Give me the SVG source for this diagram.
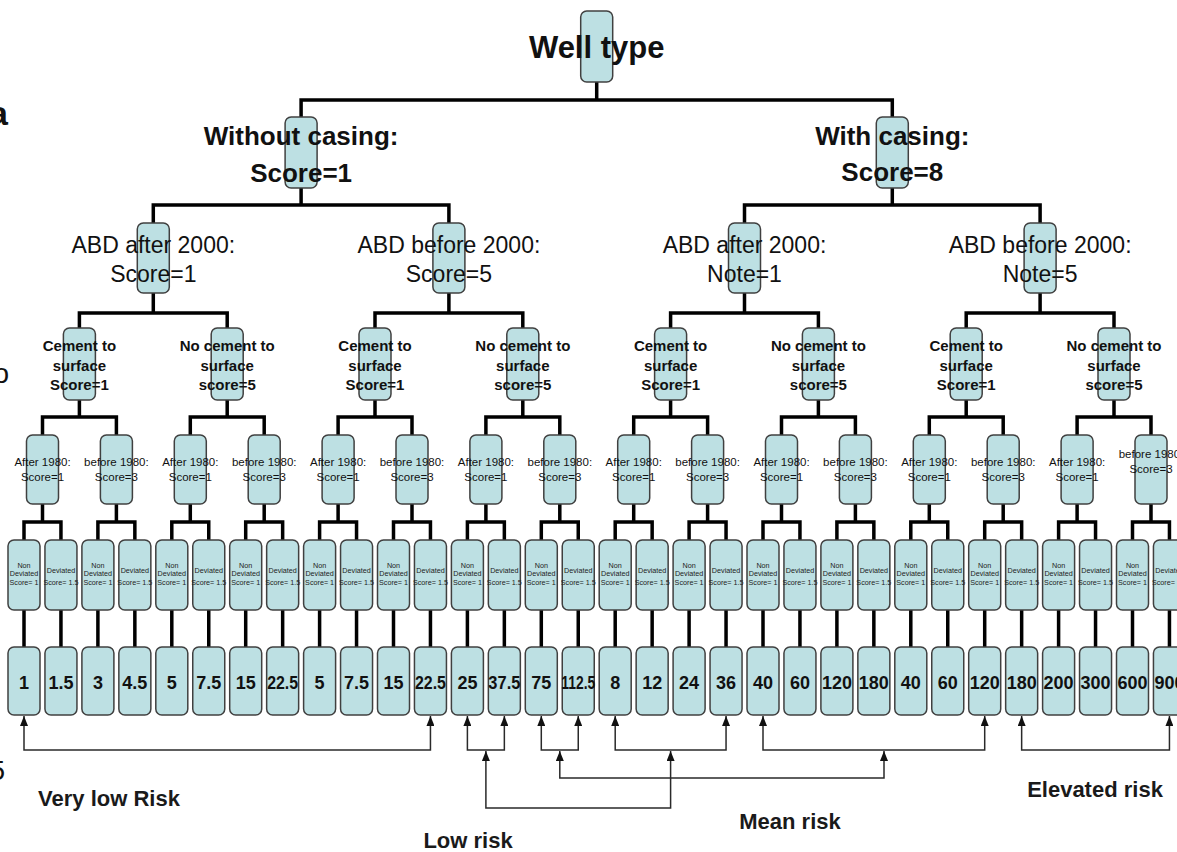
<svg xmlns="http://www.w3.org/2000/svg" width="1177" height="852" viewBox="0 0 1177 852">
<style>
text{font-family:"Liberation Sans",Arial,sans-serif;fill:#111;text-anchor:middle}
.b{fill:#bde0e3;stroke:#404040;stroke-width:1.5}
.t0{font-size:31px;font-weight:bold}
.t1{font-size:26px;font-weight:bold}
.t2{font-size:23px}
.t3{font-size:15px;font-weight:bold}
.t4{font-size:11.5px}
.t5{font-size:7.2px;fill:#222}
.t6{font-size:18px;font-weight:bold}
.tr{font-size:22px;font-weight:bold;fill:#1a1a1a}
.edge-ch{font-size:28px;text-anchor:end}
.edge{fill:none;stroke:#000;stroke-width:3.5}
.risk{fill:none;stroke:#2a2a2a;stroke-width:1.5;marker-start:url(#arr);marker-end:url(#arr)}
</style>
<defs>
<marker id="arr" viewBox="0 0 10 8" markerWidth="10" markerHeight="8" refX="10" refY="4" orient="auto-start-reverse" markerUnits="userSpaceOnUse">
<path d="M0,0L10,4L0,8z" fill="#111"/>
</marker>
</defs>
<rect width="1177" height="852" fill="#fff"/>
<text class="edge-ch" x="8" y="125" style="font-size:34px;font-weight:bold">a</text>
<text class="edge-ch" x="9" y="383">o</text>
<text class="edge-ch" x="5" y="780">5</text>

<g id="connectors">
<path class="edge" d="M596.7,82V100M301.1,117V100H892.3V117"/>
<path class="edge" d="M301.1,188V205M153.3,223V205H448.9V223M892.3,188V205M744.5,223V205H1040.1V223"/>
<path class="edge" d="M153.3,293V313M79.4,328V313H227.2V328M448.9,293V313M375,328V313H522.8V328M744.5,293V313M670.6,328V313H818.4V328M1040.1,293V313M966.2,328V313H1114V328"/>
<path class="edge" d="M79.4,400V417M42.5,435V417H116.4V435M227.2,400V417M190.3,435V417H264.2V435M375,400V417M338.1,435V417H412V435M522.8,400V417M485.9,435V417H559.8V435M670.6,400V417M633.7,435V417H707.6V435M818.4,400V417M781.5,435V417H855.4V435M966.2,400V417M929.3,435V417H1003.2V435M1114,400V417M1077.1,435V417H1151V435"/>
<path class="edge" d="M42.5,504V522M24,540V522H60.95V540M116.4,504V522M97.9,540V522H134.85V540M190.3,504V522M171.8,540V522H208.75V540M264.2,504V522M245.7,540V522H282.65V540M338.1,504V522M319.6,540V522H356.55V540M412,504V522M393.5,540V522H430.45V540M485.9,504V522M467.4,540V522H504.35V540M559.8,504V522M541.3,540V522H578.25V540M633.7,504V522M615.2,540V522H652.15V540M707.6,504V522M689.1,540V522H726.05V540M781.5,504V522M763,540V522H799.95V540M855.4,504V522M836.9,540V522H873.85V540M929.3,504V522M910.8,540V522H947.75V540M1003.2,504V522M984.7,540V522H1021.65V540M1077.1,504V522M1058.6,540V522H1095.55V540M1151,504V522M1132.5,540V522H1169.45V540"/>
<path class="edge" d="M24,610V647M60.95,610V647M97.9,610V647M134.85,610V647M171.8,610V647M208.75,610V647M245.7,610V647M282.65,610V647M319.6,610V647M356.55,610V647M393.5,610V647M430.45,610V647M467.4,610V647M504.35,610V647M541.3,610V647M578.25,610V647M615.2,610V647M652.15,610V647M689.1,610V647M726.05,610V647M763,610V647M799.95,610V647M836.9,610V647M873.85,610V647M910.8,610V647M947.75,610V647M984.7,610V647M1021.65,610V647M1058.6,610V647M1095.55,610V647M1132.5,610V647M1169.45,610V647"/>
<path class="risk" d="M24,716V750H430.45V716"/>
<path class="risk" d="M467.4,716V750H504.35V716"/>
<path class="risk" d="M541.3,716V750H578.25V716"/>
<path class="risk" d="M615.2,716V750H726.05V716"/>
<path class="risk" d="M763,716V750H984.7V716"/>
<path class="risk" d="M1021.65,716V750H1169.45V716"/>
<path class="risk" d="M485.9,751V808H670.6V751"/>
<path class="risk" d="M559.8,751V778H884V751"/>
</g>

<g id="well-type" transform="translate(596.7,0)"><rect class="b" x="-16" y="11" width="32" height="71" rx="6"/><text class="t0" y="58">Well type</text></g>

<g id="without-casing" transform="translate(301.1,0)"><rect class="b" x="-16" y="117" width="32" height="71" rx="6"/><text class="t1" y="145">Without casing:</text><text class="t1" y="182">Score=1</text></g>
<g id="with-casing" transform="translate(892.3,0)"><rect class="b" x="-16" y="117" width="32" height="71" rx="6"/><text class="t1" y="145">With casing:</text><text class="t1" y="181">Score=8</text></g>

<g id="abd-0" transform="translate(153.3,0)"><rect class="b" x="-16" y="223" width="32" height="70" rx="6"/><text class="t2" y="253">ABD after 2000:</text><text class="t2" y="282">Score=1</text></g>
<g id="abd-1" transform="translate(448.9,0)"><rect class="b" x="-16" y="223" width="32" height="70" rx="6"/><text class="t2" y="253">ABD before 2000:</text><text class="t2" y="282">Score=5</text></g>
<g id="abd-2" transform="translate(744.5,0)"><rect class="b" x="-16" y="223" width="32" height="70" rx="6"/><text class="t2" y="253">ABD after 2000:</text><text class="t2" y="282">Note=1</text></g>
<g id="abd-3" transform="translate(1040.1,0)"><rect class="b" x="-16" y="223" width="32" height="70" rx="6"/><text class="t2" y="253">ABD before 2000:</text><text class="t2" y="282">Note=5</text></g>

<g id="cem-0" transform="translate(79.4,0)"><rect class="b" x="-16" y="328" width="32" height="72" rx="6"/><text class="t3" y="351">Cement to</text><text class="t3" y="371">surface</text><text class="t3" y="390">Score=1</text></g>
<g id="cem-1" transform="translate(227.2,0)"><rect class="b" x="-16" y="328" width="32" height="72" rx="6"/><text class="t3" y="351">No cement to</text><text class="t3" y="371">surface</text><text class="t3" y="390">score=5</text></g>
<g id="cem-2" transform="translate(375,0)"><rect class="b" x="-16" y="328" width="32" height="72" rx="6"/><text class="t3" y="351">Cement to</text><text class="t3" y="371">surface</text><text class="t3" y="390">Score=1</text></g>
<g id="cem-3" transform="translate(522.8,0)"><rect class="b" x="-16" y="328" width="32" height="72" rx="6"/><text class="t3" y="351">No cement to</text><text class="t3" y="371">surface</text><text class="t3" y="390">score=5</text></g>
<g id="cem-4" transform="translate(670.6,0)"><rect class="b" x="-16" y="328" width="32" height="72" rx="6"/><text class="t3" y="351">Cement to</text><text class="t3" y="371">surface</text><text class="t3" y="390">Score=1</text></g>
<g id="cem-5" transform="translate(818.4,0)"><rect class="b" x="-16" y="328" width="32" height="72" rx="6"/><text class="t3" y="351">No cement to</text><text class="t3" y="371">surface</text><text class="t3" y="390">score=5</text></g>
<g id="cem-6" transform="translate(966.2,0)"><rect class="b" x="-16" y="328" width="32" height="72" rx="6"/><text class="t3" y="351">Cement to</text><text class="t3" y="371">surface</text><text class="t3" y="390">Score=1</text></g>
<g id="cem-7" transform="translate(1114,0)"><rect class="b" x="-16" y="328" width="32" height="72" rx="6"/><text class="t3" y="351">No cement to</text><text class="t3" y="371">surface</text><text class="t3" y="390">score=5</text></g>

<g id="y1980-0" transform="translate(42.5,0)"><rect class="b" x="-16" y="435" width="32" height="69" rx="6"/><text class="t4" y="466">After 1980:</text><text class="t4" y="481">Score=1</text></g>
<g id="y1980-1" transform="translate(116.4,0)"><rect class="b" x="-16" y="435" width="32" height="69" rx="6"/><text class="t4" y="466">before 1980:</text><text class="t4" y="481">Score=3</text></g>
<g id="y1980-2" transform="translate(190.3,0)"><rect class="b" x="-16" y="435" width="32" height="69" rx="6"/><text class="t4" y="466">After 1980:</text><text class="t4" y="481">Score=1</text></g>
<g id="y1980-3" transform="translate(264.2,0)"><rect class="b" x="-16" y="435" width="32" height="69" rx="6"/><text class="t4" y="466">before 1980:</text><text class="t4" y="481">Score=3</text></g>
<g id="y1980-4" transform="translate(338.1,0)"><rect class="b" x="-16" y="435" width="32" height="69" rx="6"/><text class="t4" y="466">After 1980:</text><text class="t4" y="481">Score=1</text></g>
<g id="y1980-5" transform="translate(412,0)"><rect class="b" x="-16" y="435" width="32" height="69" rx="6"/><text class="t4" y="466">before 1980:</text><text class="t4" y="481">Score=3</text></g>
<g id="y1980-6" transform="translate(485.9,0)"><rect class="b" x="-16" y="435" width="32" height="69" rx="6"/><text class="t4" y="466">After 1980:</text><text class="t4" y="481">Score=1</text></g>
<g id="y1980-7" transform="translate(559.8,0)"><rect class="b" x="-16" y="435" width="32" height="69" rx="6"/><text class="t4" y="466">before 1980:</text><text class="t4" y="481">Score=3</text></g>
<g id="y1980-8" transform="translate(633.7,0)"><rect class="b" x="-16" y="435" width="32" height="69" rx="6"/><text class="t4" y="466">After 1980:</text><text class="t4" y="481">Score=1</text></g>
<g id="y1980-9" transform="translate(707.6,0)"><rect class="b" x="-16" y="435" width="32" height="69" rx="6"/><text class="t4" y="466">before 1980:</text><text class="t4" y="481">Score=3</text></g>
<g id="y1980-10" transform="translate(781.5,0)"><rect class="b" x="-16" y="435" width="32" height="69" rx="6"/><text class="t4" y="466">After 1980:</text><text class="t4" y="481">Score=1</text></g>
<g id="y1980-11" transform="translate(855.4,0)"><rect class="b" x="-16" y="435" width="32" height="69" rx="6"/><text class="t4" y="466">before 1980:</text><text class="t4" y="481">Score=3</text></g>
<g id="y1980-12" transform="translate(929.3,0)"><rect class="b" x="-16" y="435" width="32" height="69" rx="6"/><text class="t4" y="466">After 1980:</text><text class="t4" y="481">Score=1</text></g>
<g id="y1980-13" transform="translate(1003.2,0)"><rect class="b" x="-16" y="435" width="32" height="69" rx="6"/><text class="t4" y="466">before 1980:</text><text class="t4" y="481">Score=3</text></g>
<g id="y1980-14" transform="translate(1077.1,0)"><rect class="b" x="-16" y="435" width="32" height="69" rx="6"/><text class="t4" y="466">After 1980:</text><text class="t4" y="481">Score=1</text></g>
<g id="y1980-15" transform="translate(1151,0)"><rect class="b" x="-16" y="435" width="32" height="69" rx="6"/><text class="t4" y="458">before 1980:</text><text class="t4" y="473">Score=3</text></g>

<g id="dev-0" transform="translate(24,0)"><rect class="b" x="-16" y="540" width="32" height="70" rx="6"/><text class="t5" y="567.5">Non</text><text class="t5" y="575.5">Deviated</text><text class="t5" y="584.5">Score= 1</text></g>
<g id="dev-1" transform="translate(60.95,0)"><rect class="b" x="-16" y="540" width="32" height="70" rx="6"/><text class="t5" y="572.5">Deviated</text><text class="t5" y="584.5">Score= 1.5</text></g>
<g id="dev-2" transform="translate(97.9,0)"><rect class="b" x="-16" y="540" width="32" height="70" rx="6"/><text class="t5" y="567.5">Non</text><text class="t5" y="575.5">Deviated</text><text class="t5" y="584.5">Score= 1</text></g>
<g id="dev-3" transform="translate(134.85,0)"><rect class="b" x="-16" y="540" width="32" height="70" rx="6"/><text class="t5" y="572.5">Deviated</text><text class="t5" y="584.5">Score= 1.5</text></g>
<g id="dev-4" transform="translate(171.8,0)"><rect class="b" x="-16" y="540" width="32" height="70" rx="6"/><text class="t5" y="567.5">Non</text><text class="t5" y="575.5">Deviated</text><text class="t5" y="584.5">Score= 1</text></g>
<g id="dev-5" transform="translate(208.75,0)"><rect class="b" x="-16" y="540" width="32" height="70" rx="6"/><text class="t5" y="572.5">Deviated</text><text class="t5" y="584.5">Score= 1.5</text></g>
<g id="dev-6" transform="translate(245.7,0)"><rect class="b" x="-16" y="540" width="32" height="70" rx="6"/><text class="t5" y="567.5">Non</text><text class="t5" y="575.5">Deviated</text><text class="t5" y="584.5">Score= 1</text></g>
<g id="dev-7" transform="translate(282.65,0)"><rect class="b" x="-16" y="540" width="32" height="70" rx="6"/><text class="t5" y="572.5">Deviated</text><text class="t5" y="584.5">Score= 1.5</text></g>
<g id="dev-8" transform="translate(319.6,0)"><rect class="b" x="-16" y="540" width="32" height="70" rx="6"/><text class="t5" y="567.5">Non</text><text class="t5" y="575.5">Deviated</text><text class="t5" y="584.5">Score= 1</text></g>
<g id="dev-9" transform="translate(356.55,0)"><rect class="b" x="-16" y="540" width="32" height="70" rx="6"/><text class="t5" y="572.5">Deviated</text><text class="t5" y="584.5">Score= 1.5</text></g>
<g id="dev-10" transform="translate(393.5,0)"><rect class="b" x="-16" y="540" width="32" height="70" rx="6"/><text class="t5" y="567.5">Non</text><text class="t5" y="575.5">Deviated</text><text class="t5" y="584.5">Score= 1</text></g>
<g id="dev-11" transform="translate(430.45,0)"><rect class="b" x="-16" y="540" width="32" height="70" rx="6"/><text class="t5" y="572.5">Deviated</text><text class="t5" y="584.5">Score= 1.5</text></g>
<g id="dev-12" transform="translate(467.4,0)"><rect class="b" x="-16" y="540" width="32" height="70" rx="6"/><text class="t5" y="567.5">Non</text><text class="t5" y="575.5">Deviated</text><text class="t5" y="584.5">Score= 1</text></g>
<g id="dev-13" transform="translate(504.35,0)"><rect class="b" x="-16" y="540" width="32" height="70" rx="6"/><text class="t5" y="572.5">Deviated</text><text class="t5" y="584.5">Score= 1.5</text></g>
<g id="dev-14" transform="translate(541.3,0)"><rect class="b" x="-16" y="540" width="32" height="70" rx="6"/><text class="t5" y="567.5">Non</text><text class="t5" y="575.5">Deviated</text><text class="t5" y="584.5">Score= 1</text></g>
<g id="dev-15" transform="translate(578.25,0)"><rect class="b" x="-16" y="540" width="32" height="70" rx="6"/><text class="t5" y="572.5">Deviated</text><text class="t5" y="584.5">Score= 1.5</text></g>
<g id="dev-16" transform="translate(615.2,0)"><rect class="b" x="-16" y="540" width="32" height="70" rx="6"/><text class="t5" y="567.5">Non</text><text class="t5" y="575.5">Deviated</text><text class="t5" y="584.5">Score= 1</text></g>
<g id="dev-17" transform="translate(652.15,0)"><rect class="b" x="-16" y="540" width="32" height="70" rx="6"/><text class="t5" y="572.5">Deviated</text><text class="t5" y="584.5">Score= 1.5</text></g>
<g id="dev-18" transform="translate(689.1,0)"><rect class="b" x="-16" y="540" width="32" height="70" rx="6"/><text class="t5" y="567.5">Non</text><text class="t5" y="575.5">Deviated</text><text class="t5" y="584.5">Score= 1</text></g>
<g id="dev-19" transform="translate(726.05,0)"><rect class="b" x="-16" y="540" width="32" height="70" rx="6"/><text class="t5" y="572.5">Deviated</text><text class="t5" y="584.5">Score= 1.5</text></g>
<g id="dev-20" transform="translate(763,0)"><rect class="b" x="-16" y="540" width="32" height="70" rx="6"/><text class="t5" y="567.5">Non</text><text class="t5" y="575.5">Deviated</text><text class="t5" y="584.5">Score= 1</text></g>
<g id="dev-21" transform="translate(799.95,0)"><rect class="b" x="-16" y="540" width="32" height="70" rx="6"/><text class="t5" y="572.5">Deviated</text><text class="t5" y="584.5">Score= 1.5</text></g>
<g id="dev-22" transform="translate(836.9,0)"><rect class="b" x="-16" y="540" width="32" height="70" rx="6"/><text class="t5" y="567.5">Non</text><text class="t5" y="575.5">Deviated</text><text class="t5" y="584.5">Score= 1</text></g>
<g id="dev-23" transform="translate(873.85,0)"><rect class="b" x="-16" y="540" width="32" height="70" rx="6"/><text class="t5" y="572.5">Deviated</text><text class="t5" y="584.5">Score= 1.5</text></g>
<g id="dev-24" transform="translate(910.8,0)"><rect class="b" x="-16" y="540" width="32" height="70" rx="6"/><text class="t5" y="567.5">Non</text><text class="t5" y="575.5">Deviated</text><text class="t5" y="584.5">Score= 1</text></g>
<g id="dev-25" transform="translate(947.75,0)"><rect class="b" x="-16" y="540" width="32" height="70" rx="6"/><text class="t5" y="572.5">Deviated</text><text class="t5" y="584.5">Score= 1.5</text></g>
<g id="dev-26" transform="translate(984.7,0)"><rect class="b" x="-16" y="540" width="32" height="70" rx="6"/><text class="t5" y="567.5">Non</text><text class="t5" y="575.5">Deviated</text><text class="t5" y="584.5">Score= 1</text></g>
<g id="dev-27" transform="translate(1021.65,0)"><rect class="b" x="-16" y="540" width="32" height="70" rx="6"/><text class="t5" y="572.5">Deviated</text><text class="t5" y="584.5">Score= 1.5</text></g>
<g id="dev-28" transform="translate(1058.6,0)"><rect class="b" x="-16" y="540" width="32" height="70" rx="6"/><text class="t5" y="567.5">Non</text><text class="t5" y="575.5">Deviated</text><text class="t5" y="584.5">Score= 1</text></g>
<g id="dev-29" transform="translate(1095.55,0)"><rect class="b" x="-16" y="540" width="32" height="70" rx="6"/><text class="t5" y="572.5">Deviated</text><text class="t5" y="584.5">Score= 1.5</text></g>
<g id="dev-30" transform="translate(1132.5,0)"><rect class="b" x="-16" y="540" width="32" height="70" rx="6"/><text class="t5" y="567.5">Non</text><text class="t5" y="575.5">Deviated</text><text class="t5" y="584.5">Score= 1</text></g>
<g id="dev-31" transform="translate(1169.45,0)"><rect class="b" x="-16" y="540" width="32" height="70" rx="6"/><text class="t5" y="572.5">Deviated</text><text class="t5" y="584.5">Score= 1.5</text></g>

<g id="leaf-0" transform="translate(24,0)"><rect class="b" x="-16" y="647" width="32" height="68" rx="6"/><text class="t6" y="689">1</text></g>
<g id="leaf-1" transform="translate(60.95,0)"><rect class="b" x="-16" y="647" width="32" height="68" rx="6"/><text class="t6" y="689">1.5</text></g>
<g id="leaf-2" transform="translate(97.9,0)"><rect class="b" x="-16" y="647" width="32" height="68" rx="6"/><text class="t6" y="689">3</text></g>
<g id="leaf-3" transform="translate(134.85,0)"><rect class="b" x="-16" y="647" width="32" height="68" rx="6"/><text class="t6" y="689">4.5</text></g>
<g id="leaf-4" transform="translate(171.8,0)"><rect class="b" x="-16" y="647" width="32" height="68" rx="6"/><text class="t6" y="689">5</text></g>
<g id="leaf-5" transform="translate(208.75,0)"><rect class="b" x="-16" y="647" width="32" height="68" rx="6"/><text class="t6" y="689">7.5</text></g>
<g id="leaf-6" transform="translate(245.7,0)"><rect class="b" x="-16" y="647" width="32" height="68" rx="6"/><text class="t6" y="689">15</text></g>
<g id="leaf-7" transform="translate(282.65,0)"><rect class="b" x="-16" y="647" width="32" height="68" rx="6"/><text class="t6" y="689" textLength="31" lengthAdjust="spacingAndGlyphs">22.5</text></g>
<g id="leaf-8" transform="translate(319.6,0)"><rect class="b" x="-16" y="647" width="32" height="68" rx="6"/><text class="t6" y="689">5</text></g>
<g id="leaf-9" transform="translate(356.55,0)"><rect class="b" x="-16" y="647" width="32" height="68" rx="6"/><text class="t6" y="689">7.5</text></g>
<g id="leaf-10" transform="translate(393.5,0)"><rect class="b" x="-16" y="647" width="32" height="68" rx="6"/><text class="t6" y="689">15</text></g>
<g id="leaf-11" transform="translate(430.45,0)"><rect class="b" x="-16" y="647" width="32" height="68" rx="6"/><text class="t6" y="689" textLength="31" lengthAdjust="spacingAndGlyphs">22.5</text></g>
<g id="leaf-12" transform="translate(467.4,0)"><rect class="b" x="-16" y="647" width="32" height="68" rx="6"/><text class="t6" y="689">25</text></g>
<g id="leaf-13" transform="translate(504.35,0)"><rect class="b" x="-16" y="647" width="32" height="68" rx="6"/><text class="t6" y="689" textLength="32" lengthAdjust="spacingAndGlyphs">37.5</text></g>
<g id="leaf-14" transform="translate(541.3,0)"><rect class="b" x="-16" y="647" width="32" height="68" rx="6"/><text class="t6" y="689">75</text></g>
<g id="leaf-15" transform="translate(578.25,0)"><rect class="b" x="-16" y="647" width="32" height="68" rx="6"/><text class="t6" y="689" textLength="34" lengthAdjust="spacingAndGlyphs">112.5</text></g>
<g id="leaf-16" transform="translate(615.2,0)"><rect class="b" x="-16" y="647" width="32" height="68" rx="6"/><text class="t6" y="689">8</text></g>
<g id="leaf-17" transform="translate(652.15,0)"><rect class="b" x="-16" y="647" width="32" height="68" rx="6"/><text class="t6" y="689">12</text></g>
<g id="leaf-18" transform="translate(689.1,0)"><rect class="b" x="-16" y="647" width="32" height="68" rx="6"/><text class="t6" y="689">24</text></g>
<g id="leaf-19" transform="translate(726.05,0)"><rect class="b" x="-16" y="647" width="32" height="68" rx="6"/><text class="t6" y="689">36</text></g>
<g id="leaf-20" transform="translate(763,0)"><rect class="b" x="-16" y="647" width="32" height="68" rx="6"/><text class="t6" y="689">40</text></g>
<g id="leaf-21" transform="translate(799.95,0)"><rect class="b" x="-16" y="647" width="32" height="68" rx="6"/><text class="t6" y="689">60</text></g>
<g id="leaf-22" transform="translate(836.9,0)"><rect class="b" x="-16" y="647" width="32" height="68" rx="6"/><text class="t6" y="689">120</text></g>
<g id="leaf-23" transform="translate(873.85,0)"><rect class="b" x="-16" y="647" width="32" height="68" rx="6"/><text class="t6" y="689">180</text></g>
<g id="leaf-24" transform="translate(910.8,0)"><rect class="b" x="-16" y="647" width="32" height="68" rx="6"/><text class="t6" y="689">40</text></g>
<g id="leaf-25" transform="translate(947.75,0)"><rect class="b" x="-16" y="647" width="32" height="68" rx="6"/><text class="t6" y="689">60</text></g>
<g id="leaf-26" transform="translate(984.7,0)"><rect class="b" x="-16" y="647" width="32" height="68" rx="6"/><text class="t6" y="689">120</text></g>
<g id="leaf-27" transform="translate(1021.65,0)"><rect class="b" x="-16" y="647" width="32" height="68" rx="6"/><text class="t6" y="689">180</text></g>
<g id="leaf-28" transform="translate(1058.6,0)"><rect class="b" x="-16" y="647" width="32" height="68" rx="6"/><text class="t6" y="689">200</text></g>
<g id="leaf-29" transform="translate(1095.55,0)"><rect class="b" x="-16" y="647" width="32" height="68" rx="6"/><text class="t6" y="689">300</text></g>
<g id="leaf-30" transform="translate(1132.5,0)"><rect class="b" x="-16" y="647" width="32" height="68" rx="6"/><text class="t6" y="689">600</text></g>
<g id="leaf-31" transform="translate(1169.45,0)"><rect class="b" x="-16" y="647" width="32" height="68" rx="6"/><text class="t6" y="689">900</text></g>

<g id="risk-labels">
<text class="tr" x="109" y="806">Very low Risk</text>
<text class="tr" x="468" y="848">Low risk</text>
<text class="tr" x="790" y="829">Mean risk</text>
<text class="tr" x="1095" y="797">Elevated risk</text>
</g>
</svg>
